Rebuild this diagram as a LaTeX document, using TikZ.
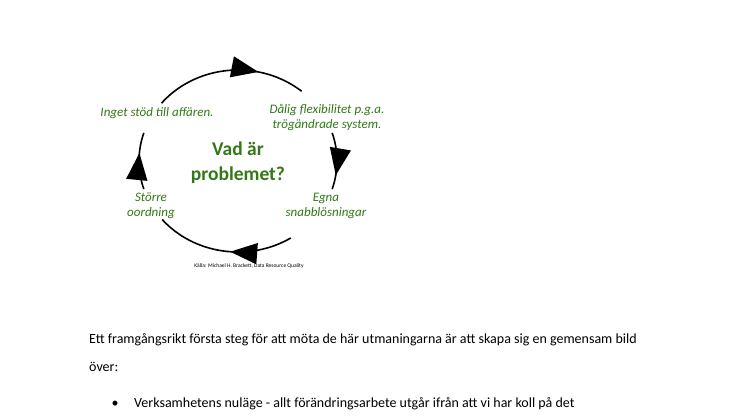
\documentclass[tikz,border=0pt]{standalone}
\usepackage{fontspec}
\setmainfont{Carlito}
\usetikzlibrary{positioning, arrows.meta, calc, decorations.markings}
\definecolor{probgreen}{RGB}{50,120,22}
\tikzset{
  problemcycle/.style={
	x=1pt, y=1pt,
	every node/.style={inner sep=0pt, align=center}, % plain text nodes
	note/.style={text=probgreen, font=\itshape\fontsize{13}{15}\selectfont}, % the four green notes
	body/.style={anchor=west, font=\fontsize{14}{16}\selectfont}, % running text
	loop arc/.style={draw=black, line width=1.6pt}, % the cycle itself
	midarrow/.style={postaction={decorate}, decoration={markings,
	  mark=at position ##1 with {\arrow{Triangle[length=27pt,width=21pt]}}}}, % big filled head
  }
}

\begin{document}
\begin{tikzpicture}[problemcycle]
\useasboundingbox (0,0) rectangle (746,419);
\coordinate (c) at (238,258);

\node[font=\bfseries\fontsize{19.5}{25}\selectfont, text=probgreen] (vad) at (238,256) {Vad är\\problemet?};
\node[note] (inget) at (157,306) {Inget stöd till affären.};
\node[note] (dalig) at (327,301.5) {Dålig flexibilitet p.g.a.\\trögändrade system.};
\node[note] (egna) at (326,213) {Egna\\snabblösningar};
\node[note] (storre) at (151,213) {Större\\oordning};
\node[font=\fontsize{5.5}{6}\selectfont] (kalla) at (249,153) {Källa: Michael H. Brackett, Data Resource Quality};

% ends of the four arcs
\coordinate (a1) at ($(c)+(140.6:99 and 91)$);
\coordinate (a2) at ($(c)+(18:99 and 91)$);
\coordinate (a3) at ($(c)+(-57.8:99 and 91)$);
\coordinate (a4) at ($(c)+(198:99 and 91)$);

\draw[loop arc, midarrow=0.69] (a1) arc[start angle=140.6, end angle=50, x radius=99, y radius=91];
\draw[loop arc, midarrow=0.75] (a2) arc[start angle=18, end angle=-18, x radius=99, y radius=91];
\draw[loop arc, midarrow=0.45] (a3) arc[start angle=-57.8, end angle=-140, x radius=99, y radius=91];
\draw[loop arc, midarrow=0.64] (a4) arc[start angle=198, end angle=162, x radius=99, y radius=91];

% running text below
\node[body] (rad1) at (89,79) {Ett framgångsrikt första steg för att möta de här utmaningarna är att skapa sig en gemensam bild};
\node[body] (rad2) at (89,52) {över:};
\node[font=\fontsize{14}{16}\selectfont] (punkt) at (115,15) {•};
\node[body] (rad3) at (134,15) {Verksamhetens nuläge - allt förändringsarbete utgår ifrån att vi har koll på det};
\end{tikzpicture}
\end{document}
